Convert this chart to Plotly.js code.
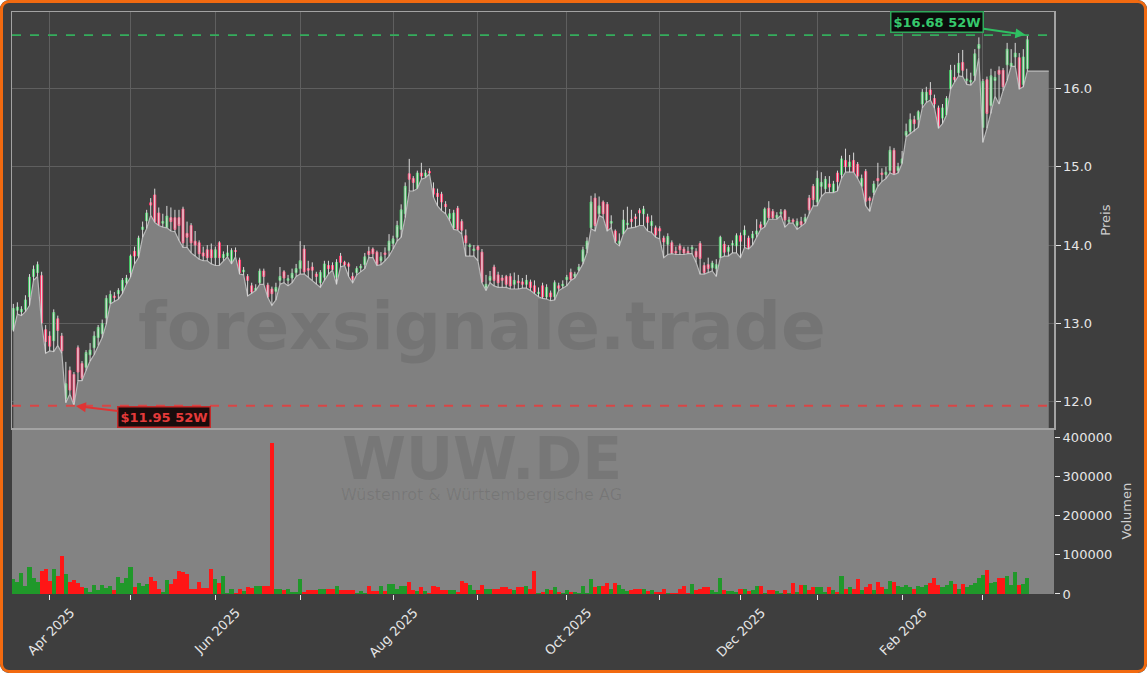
<!DOCTYPE html>
<html>
<head>
<meta charset="utf-8">
<script src="https://cdn.plot.ly/plotly-3.0.1.min.js"></script>
<style>
html,body{margin:0;padding:0;background:#ffffff;}
#wrap{position:relative;width:1147px;height:673px;overflow:hidden;border-radius:9px;background:#3e3e3e;}
#chart{position:absolute;left:0;top:0;width:1147px;height:673px;}
#frame{position:absolute;left:0;top:0;width:1147px;height:673px;box-sizing:border-box;border:3px solid #f26a10;border-radius:9px;pointer-events:none;}
</style>
</head>
<body>
<div id="wrap"><div id="chart"></div><div id="frame"></div></div>
<script>
// ---------------- data ----------------
const symbol = 'WUW.DE';
const companyName = 'Wüstenrot & Württembergische AG';
const watermark = 'forexsignale.trade';
const startDate = '2025-03-19';
const holidays = ['2025-04-18','2025-04-21','2025-05-01','2025-12-24','2025-12-25','2025-12-26','2025-12-31','2026-01-01'];
const tickLabels = ['Apr 2025','','Jun 2025','','Aug 2025','','Oct 2025','','Dec 2025','','Feb 2026',''];
const priceTicks = [12,13,14,15,16];
const volumeTicks = [0,100000,200000,300000,400000];
const areaEndX = 256.3;

const opens = [12.92,13.17,13.15,13.18,13.34,13.60,13.65,13.61,12.92,12.84,
12.78,13.06,12.84,12.04,12.40,12.35,12.69,12.49,12.44,12.60,
12.69,12.82,12.87,13.07,13.26,13.35,13.38,13.42,13.52,13.65,
13.92,13.86,14.20,14.31,14.54,14.64,14.41,14.28,14.22,14.35,
14.35,14.35,14.46,14.15,14.25,14.05,14.03,13.90,13.94,13.94,
13.84,14.03,13.84,13.86,13.78,13.93,13.81,13.66,13.60,13.48,
13.42,13.52,13.67,13.49,13.44,13.41,13.55,13.66,13.55,13.58,
13.65,13.70,13.95,13.70,13.72,13.63,13.52,13.59,13.74,13.74,
13.59,13.86,13.78,13.76,13.60,13.65,13.71,13.75,13.92,13.95,
13.91,13.80,13.90,13.93,14.02,14.10,14.20,14.40,14.91,14.85,
14.72,14.92,14.88,14.94,14.72,14.66,14.65,14.52,14.34,14.22,
14.47,14.30,14.12,13.98,13.93,13.98,13.91,13.45,13.55,13.72,
13.62,13.58,13.60,13.60,13.50,13.54,13.53,13.50,13.53,13.48,
13.38,13.48,13.34,13.39,13.34,13.48,13.48,13.56,13.65,13.60,
13.68,13.79,13.95,14.22,14.60,14.40,14.55,14.52,14.28,14.18,
14.02,14.14,14.26,14.33,14.36,14.44,14.40,14.36,14.25,14.22,
14.21,14.09,14.01,14.03,13.92,13.99,13.95,13.92,13.95,13.92,
14.02,13.74,13.75,13.71,13.70,13.84,14.01,13.92,14.00,13.99,
14.12,14.13,14.09,14.09,14.14,14.26,14.26,14.47,14.43,14.35,
14.40,14.44,14.30,14.32,14.25,14.30,14.30,14.60,14.75,14.55,
14.75,14.72,14.78,14.67,14.92,14.90,15.08,15.00,15.08,15.03,
14.75,14.94,14.60,14.67,14.85,14.92,14.90,14.95,15.21,14.95,
15.04,15.40,15.45,15.60,15.60,15.80,15.85,15.98,15.87,15.75,
15.62,15.66,15.99,16.14,16.20,16.33,16.10,16.08,16.16,16.51,
15.50,16.11,15.78,16.10,16.23,16.23,16.30,16.28,16.40,16.39,
16.05,16.25];

const highs = [13.25,13.27,13.22,13.36,13.63,13.74,13.79,13.66,12.98,12.90,
13.18,13.10,12.88,12.51,12.45,12.38,12.72,12.52,12.66,12.75,
12.90,12.98,13.05,13.36,13.42,13.40,13.45,13.58,13.62,13.88,
13.98,14.12,14.30,14.45,14.60,14.72,14.48,14.40,14.50,14.48,
14.45,14.45,14.49,14.30,14.28,14.18,14.06,13.98,14.00,14.02,
13.98,14.05,13.92,14.00,13.96,13.97,13.84,13.72,13.63,13.52,
13.50,13.70,13.70,13.52,13.47,13.52,13.72,13.68,13.62,13.70,
13.76,14.05,14.00,13.80,13.78,13.66,13.68,13.80,13.80,13.78,
13.82,13.90,13.80,13.78,13.65,13.73,13.76,13.90,13.98,13.97,
13.93,13.91,13.97,14.14,14.12,14.31,14.52,14.80,15.10,14.88,
14.95,15.05,14.96,14.98,14.80,14.72,14.68,14.56,14.46,14.45,
14.50,14.33,14.20,14.02,14.00,14.00,13.95,13.62,13.67,13.75,
13.66,13.62,13.62,13.64,13.65,13.62,13.58,13.62,13.56,13.55,
13.46,13.52,13.50,13.42,13.55,13.52,13.55,13.62,13.70,13.66,
13.76,13.98,14.10,14.63,14.66,14.62,14.57,14.55,14.38,14.20,
14.15,14.45,14.49,14.45,14.40,14.47,14.50,14.40,14.38,14.25,
14.24,14.12,14.15,14.06,13.98,14.02,13.98,13.98,14.00,13.96,
14.05,13.78,13.84,13.80,13.82,14.12,14.05,14.00,14.06,14.15,
14.16,14.25,14.12,14.18,14.33,14.30,14.48,14.56,14.46,14.42,
14.46,14.46,14.36,14.34,14.34,14.36,14.40,14.64,14.78,14.95,
14.93,14.88,14.88,14.82,14.95,15.14,15.23,15.15,15.18,15.06,
14.90,14.97,14.62,14.82,15.05,14.98,15.00,15.26,15.24,15.05,
15.20,15.55,15.68,15.65,15.72,15.99,16.02,16.08,15.92,15.78,
15.80,15.90,16.30,16.30,16.45,16.49,16.25,16.20,16.50,16.65,
16.12,16.15,16.25,16.22,16.28,16.26,16.58,16.50,16.58,16.45,
16.50,16.68];

const lows = [12.90,13.12,13.10,13.15,13.23,13.55,13.60,13.00,12.62,12.65,
12.64,12.72,12.62,11.99,12.10,11.95,12.27,12.27,12.40,12.52,
12.60,12.72,12.82,12.99,13.25,13.28,13.31,13.38,13.50,13.59,
13.76,13.84,14.10,14.21,14.38,14.29,14.25,14.23,14.22,14.18,
14.17,14.06,13.97,13.97,13.90,13.86,13.82,13.80,13.80,13.76,
13.74,13.74,13.80,13.85,13.76,13.85,13.63,13.62,13.35,13.38,
13.42,13.50,13.50,13.33,13.23,13.30,13.50,13.52,13.48,13.52,
13.60,13.63,13.63,13.59,13.55,13.50,13.46,13.55,13.63,13.68,
13.50,13.72,13.74,13.60,13.52,13.62,13.66,13.70,13.84,13.84,
13.74,13.75,13.80,13.86,13.95,14.05,14.10,14.35,14.69,14.69,
14.72,14.84,14.86,14.91,14.61,14.50,14.44,14.40,14.31,14.20,
14.19,14.14,13.86,13.86,13.86,13.80,13.52,13.42,13.52,13.48,
13.46,13.46,13.46,13.44,13.44,13.44,13.45,13.45,13.42,13.38,
13.34,13.32,13.31,13.29,13.30,13.42,13.45,13.48,13.55,13.58,
13.67,13.76,13.90,14.21,14.18,14.38,14.35,14.18,14.22,14.03,
13.99,14.14,14.21,14.22,14.23,14.25,14.25,14.18,14.16,14.10,
14.08,13.84,13.88,13.89,13.88,13.88,13.88,13.89,13.89,13.78,
13.63,13.63,13.65,13.67,13.60,13.84,13.86,13.86,13.90,13.90,
13.84,13.97,13.95,14.00,14.10,14.20,14.23,14.33,14.33,14.33,
14.38,14.23,14.28,14.28,14.20,14.24,14.28,14.40,14.50,14.50,
14.62,14.67,14.67,14.67,14.69,14.85,14.93,14.93,14.93,14.85,
14.75,14.50,14.43,14.64,14.75,14.81,14.85,14.92,14.90,14.92,
15.04,15.38,15.42,15.45,15.50,15.75,15.82,15.85,15.75,15.49,
15.55,15.66,15.99,16.08,16.16,16.15,16.05,16.04,16.10,16.40,
15.31,15.49,15.68,15.90,15.80,15.97,16.10,16.28,16.28,15.99,
16.02,16.22];

const closes = [13.19,13.21,13.18,13.30,13.59,13.69,13.75,13.01,12.77,12.71,
13.14,12.91,12.65,12.23,12.15,12.00,12.38,12.30,12.63,12.66,
12.84,12.95,13.00,13.32,13.37,13.33,13.42,13.55,13.58,13.86,
13.86,14.09,14.23,14.41,14.51,14.30,14.26,14.30,14.37,14.30,
14.20,14.25,14.03,14.10,14.03,14.00,13.89,13.86,13.84,13.84,
13.94,13.84,13.88,13.90,13.93,13.92,13.65,13.68,13.55,13.40,
13.45,13.67,13.60,13.34,13.38,13.46,13.60,13.58,13.57,13.64,
13.70,13.80,13.66,13.68,13.68,13.60,13.65,13.76,13.70,13.69,
13.78,13.78,13.75,13.73,13.56,13.70,13.73,13.85,13.88,13.89,
13.75,13.85,13.88,14.05,14.08,14.25,14.45,14.75,14.84,14.80,
14.92,14.88,14.92,14.92,14.65,14.62,14.55,14.49,14.40,14.41,
14.20,14.19,14.03,14.00,13.95,13.94,13.53,13.50,13.60,13.55,
13.52,13.55,13.50,13.48,13.55,13.52,13.50,13.55,13.46,13.40,
13.40,13.34,13.46,13.34,13.52,13.45,13.50,13.59,13.56,13.63,
13.72,13.94,14.05,14.55,14.25,14.50,14.40,14.20,14.30,14.05,
14.05,14.32,14.28,14.30,14.34,14.41,14.46,14.29,14.30,14.13,
14.18,14.04,14.11,13.90,13.90,13.94,13.90,13.90,13.97,13.85,
13.83,13.65,13.70,13.77,13.75,14.10,13.91,13.97,14.02,14.12,
14.05,14.19,13.96,14.14,14.18,14.22,14.46,14.35,14.35,14.38,
14.42,14.32,14.32,14.30,14.30,14.26,14.35,14.45,14.58,14.85,
14.80,14.84,14.74,14.78,14.81,15.10,15.00,15.06,14.93,14.88,
14.85,14.56,14.57,14.78,14.82,14.90,14.93,15.21,14.90,15.00,
15.10,15.45,15.60,15.55,15.70,15.95,15.95,15.92,15.80,15.50,
15.75,15.87,16.23,16.11,16.32,16.23,16.12,16.10,16.44,16.56,
16.09,15.68,16.16,16.14,16.18,16.02,16.50,16.32,16.45,16.00,
16.40,16.62];

const volumes = [37000,30000,53000,20000,69000,41000,31000,59000,64000,33000,
64000,46000,97000,51000,31000,36000,29000,19000,15000,5000,
23000,10000,23000,16000,20000,10000,44000,29000,41000,69000,
19000,29000,21000,26000,44000,33000,13000,5000,36000,26000,
38000,59000,55000,51000,14000,14000,31000,15000,15000,64000,
37000,29000,46000,3000,12000,3000,12000,8000,17000,16000,
20000,20000,20000,20000,385000,14000,14000,10000,14000,6000,
6000,38000,6000,10000,10000,10000,14000,14000,12000,12000,
20000,10000,10000,10000,10000,3000,8000,3000,21000,8000,
8000,20000,8000,25000,25000,14000,20000,20000,31000,10000,
8000,17000,8000,3000,21000,18000,10000,10000,10000,10000,
6000,33000,27000,24000,10000,10000,24000,14000,14000,12000,
12000,18000,18000,12000,10000,18000,18000,20000,12000,59000,
3000,6000,12000,10000,17000,6000,3000,10000,6000,6000,
3000,20000,3000,37000,17000,20000,20000,29000,14000,29000,
23000,12000,8000,10000,12000,12000,14000,8000,10000,6000,
6000,14000,3000,3000,3000,14000,20000,2000,25000,10000,
12000,17000,17000,10000,6000,42000,10000,8000,8000,6000,
14000,14000,8000,10000,20000,20000,3000,10000,10000,8000,
3000,10000,3000,28000,5000,24000,24000,9000,19000,19000,
19000,5000,17000,9000,5000,47000,14000,19000,14000,38000,
9000,19000,26000,9000,30000,19000,14000,33000,30000,21000,
19000,24000,19000,14000,21000,19000,24000,28000,40000,24000,
17000,24000,33000,26000,14000,26000,19000,24000,28000,42000,
49000,61000,28000,30000,42000,42000,47000,24000,57000,24000,
26000,40000];

// ---------------- derived from the data ----------------
function tradingDays(start, n, hol) {
  const out = [];
  const d = new Date(start + 'T00:00:00Z');
  while (out.length < n) {
    const dow = d.getUTCDay();
    const s = d.toISOString().slice(0, 10);
    if (dow !== 0 && dow !== 6 && hol.indexOf(s) < 0) out.push(s);
    d.setUTCDate(d.getUTCDate() + 1);
  }
  return out;
}
const n = closes.length;
const dates = tradingDays(startDate, n, holidays);
const idx = dates.map((_, i) => i);
const tickVals = [];
for (let i = 1; i < n; i++) {
  if (dates[i].slice(0, 7) !== dates[i - 1].slice(0, 7)) tickVals.push(i);
}
const tickText = tickVals.map((_, k) => tickLabels[k] || '');

const bodyHigh = opens.map((o, i) => Math.max(o, closes[i]));
const bodyLow = opens.map((o, i) => Math.min(o, closes[i]));
const wickX = [], wickY = [];
idx.forEach(i => { wickX.push(i, i, null); wickY.push(lows[i], highs[i], null); });
const volColors = closes.map((c, i) => c >= opens[i] ? '#20982a' : '#ff1616');

const hi52 = Math.max(...highs);
const lo52 = Math.min(...lows);
const hiIdx = highs.indexOf(hi52);
const loIdx = lows.indexOf(lo52);

const areaX = idx.concat([areaEndX]);
const areaY = lows.concat([lows[n - 1]]);

const FONT = 'DejaVu Sans, Arial, sans-serif';
const split = 0.2849;

const traces = [
  {type: 'scatter', mode: 'lines', x: areaX, y: areaY, xaxis: 'x2', yaxis: 'y',
   fill: 'tozeroy', fillcolor: '#808080', line: {color: '#b8b8b8', width: 1.2},
   hoverinfo: 'skip', showlegend: false},
  {type: 'scatter', mode: 'lines', x: wickX, y: wickY, xaxis: 'x2', yaxis: 'y',
   line: {color: '#d9d9d9', width: 1}, hoverinfo: 'skip', showlegend: false},
  {type: 'candlestick', x: idx, open: opens, high: bodyHigh, low: bodyLow, close: closes,
   xaxis: 'x2', yaxis: 'y', whiskerwidth: 0,
   increasing: {line: {color: '#43c463', width: 1}, fillcolor: '#bdf0c4'},
   decreasing: {line: {color: '#ff3a6a', width: 1}, fillcolor: '#f8b6c8'},
   hoverinfo: 'skip', showlegend: false},
  {type: 'bar', x: idx, y: volumes, xaxis: 'x', yaxis: 'y2',
   marker: {color: volColors, line: {width: 0}}, width: 1,
   hoverinfo: 'skip', showlegend: false}
];

const axisFont = {family: FONT, size: 13, color: '#e6e6e6'};
const wmFont = (size, weight) => ({family: FONT, size: size, weight: weight, color: 'rgba(0,0,0,0.09)'});
const layout = {
  width: 1147, height: 673,
  margin: {l: 12, r: 93, t: 12, b: 79, pad: 0},
  paper_bgcolor: 'rgba(0,0,0,0)',
  plot_bgcolor: '#404040',
  font: {family: FONT, color: '#e6e6e6', size: 13},
  showlegend: false,
  bargap: 0,
  xaxis: {
    domain: [0, 1], anchor: 'y2', range: [-0.33, 257.6],
    tickvals: tickVals, ticktext: tickText, tickangle: -45, ticklabelshift: 21,
    ticks: 'outside', ticklen: 5, tickwidth: 1, tickcolor: '#e6e6e6',
    tickfont: axisFont, showgrid: false, zeroline: false, showline: false,
    rangeslider: {visible: false}
  },
  xaxis2: {
    matches: 'x', anchor: 'y', range: [-0.33, 257.6],
    tickvals: tickVals, showticklabels: false, ticks: '',
    showgrid: true, gridcolor: '#5f5f5f', gridwidth: 1, zeroline: false,
    showline: true, mirror: true, linecolor: '#a3a3a3', linewidth: 1.5,
    rangeslider: {visible: false}
  },
  yaxis: {
    domain: [split, 1], anchor: 'x2', side: 'right', range: [11.664, 16.974],
    tickvals: priceTicks, tickformat: '.1f',
    ticks: 'outside', ticklen: 5, tickcolor: '#e6e6e6', tickfont: axisFont,
    showgrid: true, gridcolor: '#5f5f5f', zeroline: false,
    showline: true, mirror: true, linecolor: '#a3a3a3', linewidth: 1.5,
    title: {text: 'Preis', font: {family: FONT, size: 13, color: '#cfcfcf'}, standoff: 10}
  },
  yaxis2: {
    domain: [0, split], anchor: 'x', side: 'right', range: [0, 422900],
    tickvals: volumeTicks, tickformat: 'd',
    ticks: 'outside', ticklen: 5, tickcolor: '#e6e6e6', tickfont: axisFont,
    showgrid: false, zeroline: false, showline: false,
    title: {text: 'Volumen', font: {family: FONT, size: 13, color: '#cfcfcf'}, standoff: 10}
  },
  shapes: [
    {type: 'rect', xref: 'paper', yref: 'y2 domain', x0: 0, x1: 1, y0: 0, y1: 1,
     fillcolor: '#838383', line: {width: 0}, layer: 'below'},
    {type: 'line', xref: 'paper', yref: 'y', x0: 0, x1: 1, y0: hi52, y1: hi52,
     line: {color: '#34ad5c', width: 1.8, dash: 'dash'}},
    {type: 'line', xref: 'paper', yref: 'y', x0: 0, x1: 1, y0: lo52, y1: lo52,
     line: {color: '#d94545', width: 1.8, dash: 'dash'}}
  ],
  annotations: [
    {xref: 'paper', yref: 'paper', x: 0.4508, y: 0.459, xanchor: 'center', yanchor: 'middle',
     text: watermark, showarrow: false, font: wmFont(66, 'bold')},
    {xref: 'paper', yref: 'paper', x: 0.4508, y: 0.2315, xanchor: 'center', yanchor: 'middle',
     text: symbol, showarrow: false, font: wmFont(58, 'bold')},
    {xref: 'paper', yref: 'paper', x: 0.4508, y: 0.171, xanchor: 'center', yanchor: 'middle',
     text: companyName, showarrow: false, font: wmFont(16, 'normal')},
    {xref: 'x2', yref: 'y', x: hiIdx, y: hi52, ax: -90, ay: -13,
     text: '$' + hi52.toFixed(2) + ' 52W', showarrow: true,
     arrowhead: 2, arrowsize: 1, arrowwidth: 2, arrowcolor: '#2fc062', standoff: 2,
     font: {family: FONT, size: 13, weight: 'bold', color: '#36c86c'},
     bgcolor: '#0c0c0c', bordercolor: '#2fa85a', borderwidth: 1.5, borderpad: 2},
    {xref: 'x2', yref: 'y', x: loIdx, y: lo52, ax: 90, ay: 11,
     text: '$' + lo52.toFixed(2) + ' 52W', showarrow: true,
     arrowhead: 2, arrowsize: 1, arrowwidth: 2, arrowcolor: '#e03434', standoff: 2,
     font: {family: FONT, size: 13, weight: 'bold', color: '#e43a3a'},
     bgcolor: '#1a0c0c', bordercolor: '#c42a2a', borderwidth: 1.5, borderpad: 2}
  ]
};

Plotly.newPlot('chart', traces, layout, {displayModeBar: false, staticPlot: true});
</script>
</body>
</html>
